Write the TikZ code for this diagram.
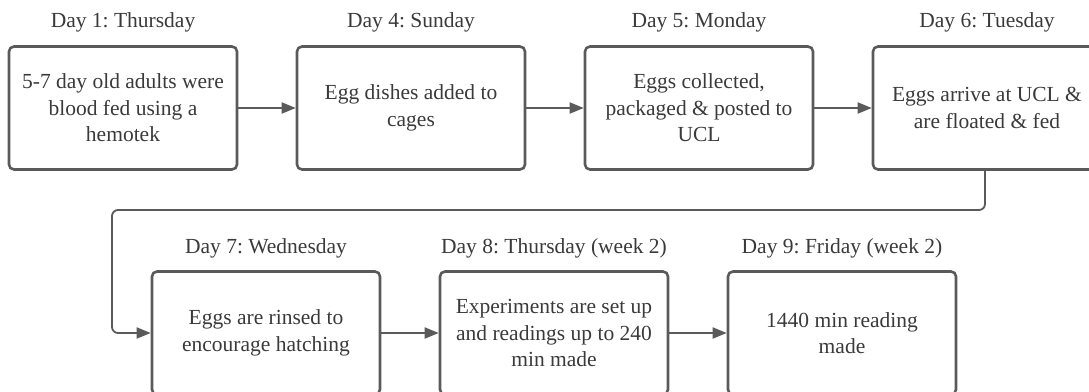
\documentclass[tikz,border=0pt]{standalone}
\usepackage{fontspec}
\setmainfont{Liberation Serif}
\usetikzlibrary{arrows.meta}
\definecolor{ink}{HTML}{3A3A3A}
\definecolor{edge}{HTML}{5A5A5A}
\frenchspacing
\begin{document}
\begin{tikzpicture}[x=1pt,y=-1pt,
  stepbox/.style={draw=edge,line width=2.6pt,rounded corners=5pt,minimum width=228pt,minimum height=123pt,
    align=center,text=ink,font=\fontsize{21.5}{26.5}\selectfont,inner sep=0pt},
  daylabel/.style={text=ink,font=\fontsize{21.5}{26}\selectfont,inner sep=0pt},
  conn/.style={draw=edge,line width=1.8pt,-{Triangle[length=14pt,width=11pt]},rounded corners=6pt}]
\useasboundingbox (0,0) rectangle (1089,391);
\node[stepbox] (b1) at (123,108) {5-7 day old adults were\\blood fed using a\\hemotek};
\node[stepbox] (b2) at (411,108) {Egg dishes added to\\cages};
\node[stepbox] (b3) at (699,108) {Eggs collected,\\packaged \& posted to\\UCL};
\node[stepbox] (b4) at (987,108) {Eggs arrive at UCL \&\\are floated \& fed};
\node[stepbox] (b5) at (266,333) {Eggs are rinsed to\\encourage hatching};
\node[stepbox] (b6) at (554,333) {Experiments are set up\\and readings up to 240\\min made};
\node[stepbox] (b7) at (842,333) {1440 min reading\\made};
\node[daylabel] (l1) at (123,22) {Day 1: Thursday};
\node[daylabel] (l2) at (411,22) {Day 4: Sunday};
\node[daylabel] (l3) at (699,22) {Day 5: Monday};
\node[daylabel] (l4) at (987,22) {Day 6: Tuesday};
\node[daylabel] (l5) at (266,248) {Day 7: Wednesday};
\node[daylabel] (l6) at (554,248) {Day 8: Thursday (week 2)};
\node[daylabel] (l7) at (842,248) {Day 9: Friday (week 2)};
\draw[conn] (b1) -- (b2);
\draw[conn] (b2) -- (b3);
\draw[conn] (b3) -- (b4);
\coordinate (c1) at (985,210);
\coordinate (c2) at (112,210);
\coordinate (c3) at (112,333);
\draw[conn] (b4.south -| c1) -- (c1) -- (c2) -- (c3) -- (b5.west);
\draw[conn] (b5) -- (b6);
\draw[conn] (b6) -- (b7);
\end{tikzpicture}
\end{document}
